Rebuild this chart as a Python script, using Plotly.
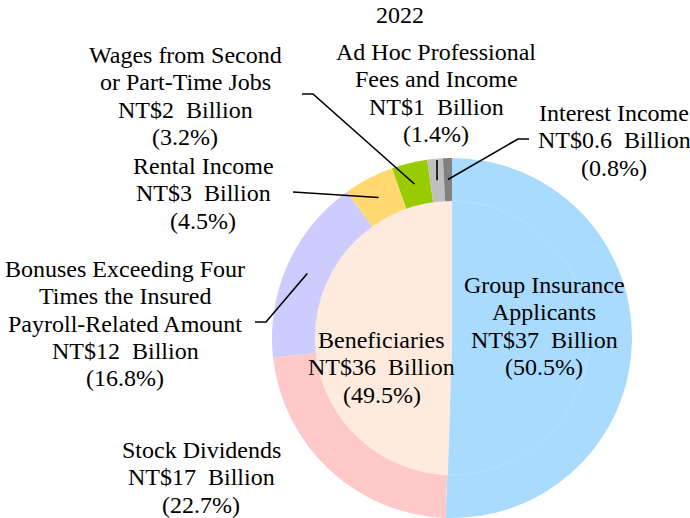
import math
import plotly.graph_objects as go

W, H = 690, 518

# Income sources, listed clockwise from 12 o'clock
categories = [
    "Group Insurance Applicants",
    "Stock Dividends",
    "Bonuses Exceeding Four Times the Insured Payroll-Related Amount",
    "Rental Income",
    "Wages from Second or Part-Time Jobs",
    "Ad Hoc Professional Fees and Income",
    "Interest Income",
]
amounts_bn = ["37", "17", "12", "3", "2", "1", "0.6"]
shares_pct = [50.5, 22.7, 16.8, 4.5, 3.2, 1.4, 0.8]
slice_colors = ["#A9DBFF", "#FFC9C9", "#CCCCFF", "#FFD970",
                "#99CC00", "#BFBFBF", "#808080"]

# Inner ring: payer type
inner_categories = ["Group Insurance Applicants", "Beneficiaries"]
inner_amounts_bn = ["37", "36"]
inner_shares_pct = [50.5, 49.5]
inner_colors = ["#A9DBFF", "#FEEBDD"]

title_text = "2022"

# Wrapped label lines
label_lines = {
    "Group Insurance Applicants": ["Group Insurance", "Applicants"],
    "Beneficiaries": ["Beneficiaries"],
    "Stock Dividends": ["Stock Dividends"],
    "Bonuses Exceeding Four Times the Insured Payroll-Related Amount":
        ["Bonuses Exceeding Four", "Times the Insured", "Payroll-Related Amount"],
    "Rental Income": ["Rental Income"],
    "Wages from Second or Part-Time Jobs": ["Wages from Second", "or Part-Time Jobs"],
    "Ad Hoc Professional Fees and Income": ["Ad Hoc Professional", "Fees and Income"],
    "Interest Income": ["Interest Income"],
}

# Layout (pixels): label block centre x, first baseline y, leader elbow points
label_pos = {
    "Group Insurance Applicants": (544, 293, None),
    "Beneficiaries": (382, 348, None),
    "Stock Dividends": (201, 458, None),
    "Bonuses Exceeding Four Times the Insured Payroll-Related Amount":
        (125, 277, [(255, 322), (266, 322)]),
    "Rental Income": (203, 174, [(293, 192)]),
    "Wages from Second or Part-Time Jobs": (185, 63, [(302, 94), (313, 94)]),
    "Ad Hoc Professional Fees and Income": (436, 60, [(437, 160)]),
    "Interest Income": (614, 121, [(529, 139), (518, 139)]),
}

CX, CY = 452, 338
R_OUT, R_IN = 180, 137
LINE_H = 27.3
FONT = dict(family="Liberation Serif", size=24, color="#000000")


def px(x, y):
    return x / W, 1 - y / H


fig = go.Figure()

fig.add_trace(go.Pie(
    labels=categories, values=shares_pct, sort=False, direction="clockwise",
    rotation=0, marker=dict(colors=slice_colors, line=dict(width=0)),
    textinfo="none", hoverinfo="label+percent", showlegend=False,
    domain=dict(x=[(CX - R_OUT) / W, (CX + R_OUT) / W],
                y=[(H - CY - R_OUT) / H, (H - CY + R_OUT) / H]),
))
fig.add_trace(go.Pie(
    labels=inner_categories, values=inner_shares_pct, sort=False,
    direction="clockwise", rotation=0,
    marker=dict(colors=inner_colors, line=dict(width=1, color="rgba(255,255,255,0.15)")),
    textinfo="none", hoverinfo="label+percent", showlegend=False,
    domain=dict(x=[(CX - R_IN) / W, (CX + R_IN) / W],
                y=[(H - CY - R_IN) / H, (H - CY + R_IN) / H]),
))

annotations = []
shapes = []


def add_label(name, amount, pct):
    cx, base, elbow = label_pos[name]
    lines = label_lines[name] + [f"NT${amount}  Billion", f"({pct}%)"]
    for i, line in enumerate(lines):
        x, y = px(cx, base + i * LINE_H - 8)
        annotations.append(dict(text=line, x=x, y=y, xref="paper", yref="paper",
                                xanchor="center", yanchor="middle",
                                showarrow=False, font=FONT))
    return elbow


total = sum(shares_pct)
cum = 0.0
for name, amt, pct in zip(categories, amounts_bn, shares_pct):
    mid = (cum + pct / 2) / total
    cum += pct
    elbow = add_label(name, amt, pct)
    if elbow:
        theta = 2 * math.pi * mid
        r_mid = (R_IN + R_OUT) / 2
        ax = CX + r_mid * math.sin(theta)
        ay = CY - r_mid * math.cos(theta)
        pts = elbow + [(ax, ay)]
        path = "M " + " L ".join(f"{px(x, y)[0]:.5f},{px(x, y)[1]:.5f}" for x, y in pts)
        shapes.append(dict(type="path", path=path, xref="paper", yref="paper",
                           line=dict(color="#000000", width=1.6)))

add_label("Beneficiaries", inner_amounts_bn[1], inner_shares_pct[1])

tx, ty = px(400, 15)
annotations.append(dict(text=title_text, x=tx, y=ty, xref="paper", yref="paper",
                        xanchor="center", yanchor="middle", showarrow=False, font=FONT))

fig.update_layout(
    width=W, height=H, margin=dict(l=0, r=0, t=0, b=0),
    paper_bgcolor="#FFFFFF", plot_bgcolor="#FFFFFF",
    font=dict(family="Liberation Serif"),
    annotations=annotations, shapes=shapes,
)

fig.write_html("out.html")
